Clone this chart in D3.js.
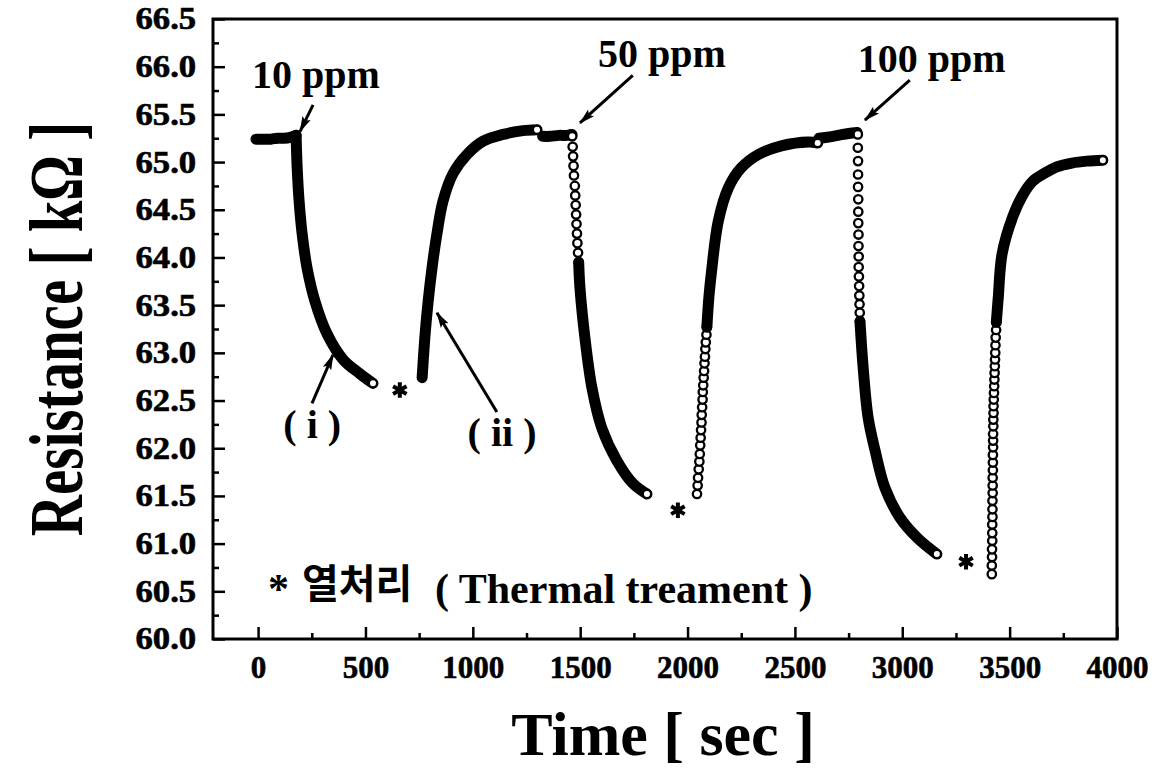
<!DOCTYPE html>
<html><head><meta charset="utf-8">
<script src="https://cdn.jsdelivr.net/npm/d3@7"></script>
<style>
html,body{margin:0;padding:0;background:#fff;}
svg{display:block;background:#fff;}
</style></head>
<body>
<svg id="chart" width="1172" height="772"></svg>
<script>
// ---------------- data (time in sec, resistance in kOhm) ----------------
const xTicks = [0, 500, 1000, 1500, 2000, 2500, 3000, 3500, 4000];
const xMinorTicks = [250, 750, 1250, 1750, 2250, 2750, 3250, 3750];
const yTicks = [60.0, 60.5, 61.0, 61.5, 62.0, 62.5, 63.0, 63.5, 64.0, 64.5, 65.0, 65.5, 66.0, 66.5];
const yMinorTicks = [60.25, 60.75, 61.25, 61.75, 62.25, 62.75, 63.25, 63.75, 64.25, 64.75, 65.25, 65.75, 66.25];

// baseline before 10 ppm
const base1Time = [-10, 30, 60, 90, 120, 150, 177];
const base1Res  = [65.24, 65.24, 65.24, 65.25, 65.25, 65.26, 65.28];
// response to 10 ppm (i)
const drop1Time = [177, 182, 191, 205, 228, 265, 321, 396, 475, 535];
const drop1Res  = [65.28, 64.94, 64.59, 64.25, 63.89, 63.54, 63.20, 62.93, 62.78, 62.68];
// recovery after thermal treatment (ii)
const rec1Time = [764, 778, 792, 810, 833, 861, 908, 973, 1048, 1141, 1234, 1299];
const rec1Res  = [62.74, 63.20, 63.54, 63.89, 64.25, 64.59, 64.88, 65.08, 65.22, 65.29, 65.33, 65.34];
// baseline before 50 ppm
const base2Time = [1325, 1360, 1400, 1440, 1462];
const base2Res  = [65.27, 65.27, 65.28, 65.28, 65.29];
// response to 50 ppm (separated markers, then dense)
const drop2DotTime = [1463, 1465, 1467, 1469, 1471, 1475, 1477, 1479, 1481, 1483, 1485, 1487, 1490, 1493];
const drop2DotRes  = [65.27, 65.16, 65.06, 64.96, 64.86, 64.75, 64.65, 64.55, 64.45, 64.35, 64.25, 64.15, 64.05, 63.95];
const drop2Time = [1493, 1499, 1522, 1555, 1601, 1671, 1746, 1811];
const drop2Res  = [63.95, 63.68, 63.16, 62.63, 62.21, 61.87, 61.63, 61.52];
// recovery after thermal treatment
const rec2DotTime = [2044, 2047, 2049, 2052, 2055, 2057, 2059, 2061, 2063, 2065, 2066, 2068, 2070, 2071, 2073, 2075, 2077, 2079, 2081, 2083, 2085, 2088, 2090];
const rec2DotRes  = [61.52, 61.61, 61.69, 61.78, 61.86, 61.94, 62.03, 62.11, 62.19, 62.27, 62.35, 62.43, 62.51, 62.59, 62.66, 62.74, 62.81, 62.89, 62.96, 63.04, 63.11, 63.19, 63.27];
const rec2Time = [2090, 2100, 2112, 2143, 2190, 2250, 2330, 2437, 2562, 2606];
const rec2Res  = [63.27, 63.60, 63.86, 64.38, 64.73, 64.94, 65.08, 65.17, 65.21, 65.20];
// baseline before 100 ppm
const base3Time = [2612, 2650, 2700, 2750, 2790];
const base3Res  = [65.25, 65.26, 65.28, 65.30, 65.31];
// response to 100 ppm
const drop3DotTime = [2793, 2793, 2794, 2794, 2794, 2795, 2795, 2795, 2796, 2796, 2797, 2797, 2798, 2799, 2800, 2801, 2802, 2803];
const drop3DotRes  = [65.29, 65.15, 65.01, 64.87, 64.74, 64.61, 64.48, 64.36, 64.24, 64.12, 64.01, 63.90, 63.80, 63.70, 63.60, 63.51, 63.42, 63.33];
const drop3Time = [2803, 2818, 2841, 2874, 2920, 2990, 3070, 3161];
const drop3Res  = [63.33, 62.84, 62.32, 61.97, 61.58, 61.27, 61.06, 60.89];
// recovery after thermal treatment
const rec3DotTime = [3417, 3417, 3418, 3418, 3419, 3419, 3419, 3420, 3420, 3420, 3421, 3421, 3421, 3422, 3422, 3422, 3423, 3423, 3423, 3424, 3424, 3425, 3425, 3426, 3427, 3428, 3429, 3430, 3431, 3432, 3433, 3434, 3435, 3437, 3438];
const rec3DotRes  = [60.68, 60.77, 60.86, 60.94, 61.03, 61.11, 61.20, 61.28, 61.36, 61.45, 61.53, 61.61, 61.69, 61.77, 61.85, 61.93, 62.01, 62.08, 62.15, 62.23, 62.30, 62.37, 62.44, 62.51, 62.58, 62.65, 62.72, 62.79, 62.86, 62.93, 63.00, 63.08, 63.16, 63.24, 63.32];
const rec3Time = [3438, 3447, 3465, 3515, 3560, 3608, 3660, 3720, 3790, 3860, 3934];
const rec3Res  = [63.32, 63.58, 64.04, 64.43, 64.65, 64.80, 64.88, 64.95, 64.99, 65.01, 65.02];

// thermal treatment marks (time, resistance)
const thermalTime = [660, 1955, 3297];
const thermalRes  = [62.61, 61.35, 60.81];

// ---------------- annotation layout ----------------
const ppmLabels = [
  {text: '10 ppm',  t: -28,  r: 65.78, from: [256, 65.60],  to: [195, 65.32]},
  {text: '50 ppm',  t: 1583, r: 66.00, from: [1745, 65.91], to: [1499, 65.41]},
  {text: '100 ppm', t: 2793, r: 65.94, from: [3035, 65.86], to: [2826, 65.44]}
];
const romanLabels = [
  {text: '( i )',  t: 252,  r: 62.11, from: [251, 62.47],  to: [349, 62.98]},
  {text: '( ii )', t: 1136, r: 62.02, from: [1112, 62.38], to: [833, 63.42]}
];

// ---------------- drawing ----------------
const svg = d3.select('#chart');
const serif = '"Liberation Serif","Times New Roman",Times,serif';

const x = d3.scaleLinear().domain([-210, 4000]).range([213, 1117]);
const y = d3.scaleLinear().domain([60, 66.5]).range([639, 19]);

svg.append('rect').attr('width', 1172).attr('height', 772).attr('fill', '#fff');

// arrow marker
svg.append('defs').append('marker')
  .attr('id', 'ah').attr('markerUnits', 'userSpaceOnUse')
  .attr('viewBox', '0 -5 16 10').attr('refX', 15).attr('refY', 0)
  .attr('markerWidth', 16).attr('markerHeight', 10).attr('orient', 'auto')
  .append('path').attr('d', 'M0,-4.5L16,0L0,4.5L3,0Z').attr('fill', '#000');

// axes (ticks pointing inward)
const gx = svg.append('g').attr('transform', `translate(0,${y(60)})`)
  .call(d3.axisBottom(x).tickValues(xTicks).tickSize(-12).tickPadding(17).tickFormat(d3.format('d')));
const gxm = svg.append('g').attr('transform', `translate(0,${y(60)})`)
  .call(d3.axisBottom(x).tickValues(xMinorTicks).tickSize(-6).tickFormat(''));
const gy = svg.append('g').attr('transform', `translate(${x(-210)},0)`)
  .call(d3.axisLeft(y).tickValues(yTicks).tickSize(-12).tickPadding(15).tickFormat(d3.format('.1f')));
const gym = svg.append('g').attr('transform', `translate(${x(-210)},0)`)
  .call(d3.axisLeft(y).tickValues(yMinorTicks).tickSize(-6).tickFormat(''));
[gx, gxm, gy, gym].forEach(g => {
  g.select('.domain').remove();
  g.selectAll('line').attr('stroke', '#000').attr('stroke-width', 2.5);
});
gx.selectAll('text').attr('font-family', serif).attr('font-weight', 'bold')
  .attr('font-size', 31).attr('fill', '#000').attr('stroke', '#000').attr('stroke-width', 0.6);
gy.selectAll('text').attr('font-family', serif).attr('font-weight', 'bold')
  .attr('font-size', 31).attr('fill', '#000').attr('stroke', '#000').attr('stroke-width', 0.6)
  .attr('transform', 'scale(1.12,1)');

// frame
svg.append('rect')
  .attr('x', x(-210)).attr('y', y(66.5))
  .attr('width', x(4000) - x(-210)).attr('height', y(60) - y(66.5))
  .attr('fill', 'none').attr('stroke', '#000').attr('stroke-width', 3);

// axis titles
svg.append('text').text('Time [ sec ]')
  .attr('x', 663).attr('y', 755).attr('text-anchor', 'middle')
  .attr('font-family', serif).attr('font-weight', 'bold').attr('font-size', 62).attr('fill', '#000');
svg.append('text').text('Resistance [ kΩ ]')
  .attr('transform', 'translate(82,329) scale(1.33,1) rotate(-90)')
  .attr('text-anchor', 'middle')
  .attr('font-family', serif).attr('font-weight', 'bold').attr('font-size', 57).attr('fill', '#000');

// data
const zip = (t, r) => t.map((v, i) => [v, r[i]]);
const runs = [
  {kind: 'band', pts: zip(base1Time, base1Res)},
  {kind: 'band', pts: zip(drop1Time, drop1Res), end: true},
  {kind: 'band', pts: zip(rec1Time, rec1Res), end: true},
  {kind: 'band', pts: zip(base2Time, base2Res)},
  {kind: 'dots', pts: zip(drop2DotTime, drop2DotRes)},
  {kind: 'band', pts: zip(drop2Time, drop2Res), end: true},
  {kind: 'dots', pts: zip(rec2DotTime, rec2DotRes)},
  {kind: 'band', pts: zip(rec2Time, rec2Res), end: true},
  {kind: 'band', pts: zip(base3Time, base3Res)},
  {kind: 'dots', pts: zip(drop3DotTime, drop3DotRes)},
  {kind: 'band', pts: zip(drop3Time, drop3Res), end: true},
  {kind: 'dots', pts: zip(rec3DotTime, rec3DotRes)},
  {kind: 'band', pts: zip(rec3Time, rec3Res), end: true}
];
const line = d3.line().x(d => x(d[0])).y(d => y(d[1])).curve(d3.curveCatmullRom.alpha(0.5));
const dataG = svg.append('g');
runs.forEach(run => {
  if (run.kind === 'band') {
    dataG.append('path').datum(run.pts).attr('d', line)
      .attr('fill', 'none').attr('stroke', '#000').attr('stroke-width', 11)
      .attr('stroke-linecap', 'round').attr('stroke-linejoin', 'round');
  } else {
    dataG.append('g').selectAll('circle').data(run.pts).join('circle')
      .attr('cx', d => x(d[0])).attr('cy', d => y(d[1])).attr('r', 4.2)
      .attr('fill', '#fff').attr('stroke', '#000').attr('stroke-width', 2.3);
  }
});
svg.append('g').selectAll('circle')
  .data(runs.filter(r => r.end).map(r => r.pts[r.pts.length - 1])).join('circle')
  .attr('cx', d => x(d[0])).attr('cy', d => y(d[1])).attr('r', 4)
  .attr('fill', '#fff').attr('stroke', '#000').attr('stroke-width', 2);

// thermal-treatment asterisks
svg.append('g').selectAll('path').data(zip(thermalTime, thermalRes)).join('path')
  .attr('transform', d => `translate(${x(d[0])},${y(d[1])})`)
  .attr('d', d3.symbol().type(d3.symbolAsterisk).size(170)())
  .attr('fill', 'none').attr('stroke', '#000').attr('stroke-width', 4);

// annotation labels and arrows
[...ppmLabels, ...romanLabels].forEach((a, i) => {
  svg.append('line')
    .attr('x1', x(a.from[0])).attr('y1', y(a.from[1]))
    .attr('x2', x(a.to[0])).attr('y2', y(a.to[1]))
    .attr('stroke', '#000').attr('stroke-width', 3).attr('marker-end', 'url(#ah)');
  svg.append('text').text(a.text)
    .attr('x', x(a.t)).attr('y', y(a.r))
    .attr('text-anchor', i < 3 ? 'start' : 'middle')
    .attr('font-family', serif).attr('font-weight', 'bold').attr('font-size', 40).attr('fill', '#000')
    .attr('xml:space', 'preserve');
});

// note
svg.append('text').text('*').attr('x', x(46)).attr('y', y(60.377))
  .attr('font-family', serif).attr('font-weight', 'bold').attr('font-size', 42).attr('fill', '#000');
svg.append('text').text('열처리').attr('x', x(204)).attr('y', y(60.43))
  .attr('font-family', '"Noto Sans CJK KR",sans-serif').attr('font-weight', 'bold').attr('font-size', 40).attr('fill', '#000');
svg.append('text').text('( Thermal treament )').attr('x', x(824)).attr('y', y(60.377))
  .attr('font-family', serif).attr('font-weight', 'bold').attr('font-size', 42).attr('fill', '#000');
</script>
</body></html>
